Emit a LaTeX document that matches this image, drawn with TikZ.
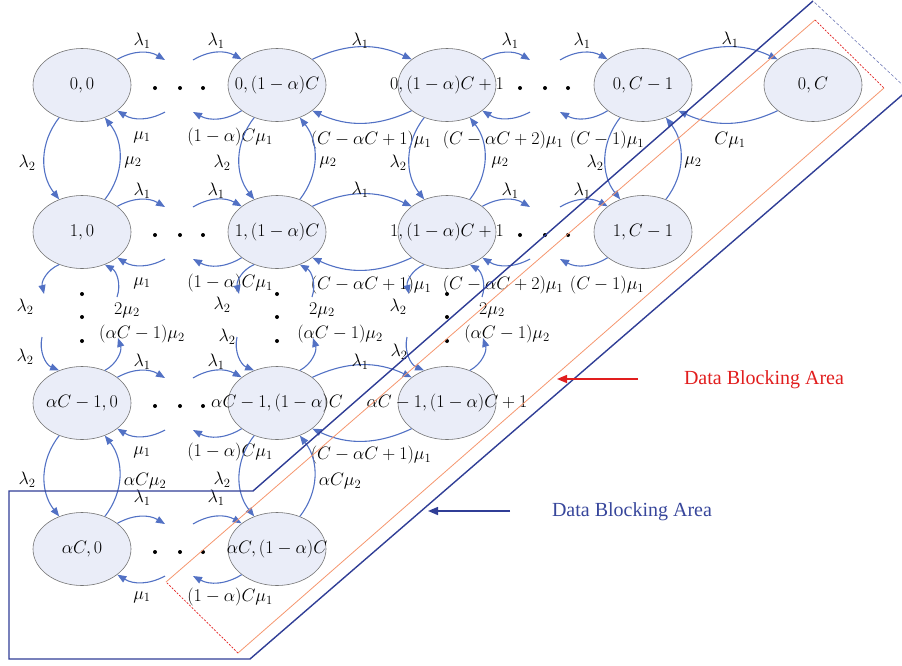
\RequirePackage{fix-cm}
\documentclass[tikz,border=0pt]{standalone}
\usepackage{fontspec}
\newfontfamily\tnr{Liberation Serif}
\usetikzlibrary{shapes.geometric,arrows.meta}
\definecolor{edgeblue}{RGB}{82,113,196}
\definecolor{nodefill}{RGB}{234,237,248}
\definecolor{nodegray}{RGB}{115,115,115}
\definecolor{navyline}{RGB}{48,62,150}
\definecolor{salmonline}{RGB}{245,150,110}
\definecolor{redline}{RGB}{225,30,30}
\definecolor{txtblue}{RGB}{55,70,155}
\begin{document}
\begin{tikzpicture}[x=1pt,y=1pt,
  st/.style={ellipse,draw=nodegray,line width=0.6pt,fill=nodefill,minimum width=98pt,minimum height=73pt,inner sep=0pt,font=\fontsize{18}{21}\selectfont},
  tr/.style={draw=edgeblue,line width=1.1pt,-{Triangle[length=9pt,width=7pt]}},
  lb/.style={font=\fontsize{18}{21}\selectfont,inner sep=0pt},
  note/.style={font={\tnr\fontsize{20}{24}\selectfont},inner sep=0pt}]
\useasboundingbox (0,0) rectangle (902,-665);

% ---------- states ----------
\node[st] (n11) at (82,-85)  {\makebox[0pt]{$0,0$}};
\node[st] (n12) at (277,-85) {\makebox[0pt]{$0,(1-\alpha)C$}};
\node[st] (n13) at (447,-85) {\makebox[0pt]{$0,(1-\alpha)C+1$}};
\node[st] (n14) at (643,-85) {\makebox[0pt]{$0,C-1$}};
\node[st] (n15) at (813,-85) {\makebox[0pt]{$0,C$}};

\node[st] (n21) at (82,-232)  {\makebox[0pt]{$1,0$}};
\node[st] (n22) at (277,-232) {\makebox[0pt]{$1,(1-\alpha)C$}};
\node[st] (n23) at (447,-232) {\makebox[0pt]{$1,(1-\alpha)C+1$}};
\node[st] (n24) at (643,-232) {\makebox[0pt]{$1,C-1$}};

\node[st] (n31) at (82,-403)  {\makebox[0pt]{$\alpha C-1,0$}};
\node[st] (n32) at (277,-403) {\makebox[0pt]{$\alpha C-1,(1-\alpha)C$}};
\node[st] (n33) at (447,-403) {\makebox[0pt]{$\alpha C-1,(1-\alpha)C+1$}};

\node[st] (n41) at (82,-549)  {\makebox[0pt]{$\alpha C,0$}};
\node[st] (n42) at (277,-549) {\makebox[0pt]{$\alpha C,(1-\alpha)C$}};

% ---------- column 1 <-> column 2 through dots, all rows ----------
\foreach \r/\yc/\ya/\yb in {1/-85/-41/-137, 2/-232/-191/-283, 3/-403/-362/-452, 4/-549/-498/-597}{
  \coordinate (pa\r) at (165,\yc+25);
  \coordinate (pb\r) at (193,\yc+25);
  \coordinate (pc\r) at (165,\yc-27);
  \coordinate (pd\r) at (193,\yc-27);
  \draw[tr] (n\r1.36) to[bend left=30] (pa\r);
  \draw[tr] (pb\r) to[bend left=30] (n\r2.144);
  \draw[tr] (pc\r) to[bend left=30] (n\r1.324);
  \draw[tr] (n\r2.216) to[bend left=30] (pd\r);
  \foreach \x in {155,180,203} \fill (\x,\yc-3) circle (2);
  \node[lb] (la\r) at (142,\ya) {$\lambda_1$};
  \node[lb] (lb\r) at (216,\ya) {$\lambda_1$};
  \node[lb] (lc\r) at (142,\yb) {$\mu_1$};
  \node[lb] (ld\r) at (230,\yb) {$(1-\alpha)C\mu_1$};
}

% ---------- column 2 <-> column 3, rows 1-3 ----------
\foreach \r/\ya/\yb in {1/-41/-140, 2/-190/-285, 3/-362/-455}{
  \draw[tr] (n\r2.36) to[bend left=25] (n\r3.144);
  \draw[tr] (n\r3.216) to[bend left=25] (n\r2.324);
  \node[lb] (le\r) at (360,\ya) {$\lambda_1$};
  \node[lb] (lf\r) at (371,\yb) {$(C-\alpha C+1)\mu_1$};
}

% ---------- column 3 <-> column 4 through dots, rows 1-2 ----------
\foreach \r/\yc/\ya/\yb in {1/-85/-41/-140, 2/-232/-191/-285}{
  \coordinate (qa\r) at (530,\yc+25);
  \coordinate (qb\r) at (560,\yc+25);
  \coordinate (qc\r) at (530,\yc-27);
  \coordinate (qd\r) at (560,\yc-27);
  \draw[tr] (n\r3.36) to[bend left=30] (qa\r);
  \draw[tr] (qb\r) to[bend left=30] (n\r4.144);
  \draw[tr] (qc\r) to[bend left=30] (n\r3.324);
  \draw[tr] (n\r4.216) to[bend left=30] (qd\r);
  \foreach \x in {520,545,568} \fill (\x,\yc-3) circle (2);
  \node[lb] (lg\r) at (510,\ya) {$\lambda_1$};
  \node[lb] (lh\r) at (582,\ya) {$\lambda_1$};
  \node[lb] (li\r) at (503,\yb) {$(C-\alpha C+2)\mu_1$};
  \node[lb] (lj\r) at (607,\yb) {$(C-1)\mu_1$};
}

% ---------- column 4 <-> column 5, row 1 ----------
\draw[tr] (n14.36) to[bend left=25] (n15.144);
\draw[tr] (n15.216) to[bend left=25] (n14.324);
\node[lb] (lk1) at (730,-40) {$\lambda_1$};
\node[lb] (lm1) at (730,-140) {$C\mu_1$};

% ---------- row 1 <-> row 2 ----------
\foreach \c/\xl/\xm in {1/27/133, 2/222/328, 3/398/500, 4/595/693}{
  \draw[tr] (n1\c.235) to[bend right=38] (n2\c.125);
  \draw[tr] (n2\c.55) to[bend right=38] (n1\c.305);
  \node[lb] (va\c) at (\xl,-163) {$\lambda_2$};
  \node[lb] (vb\c) at (\xm,-162) {$\mu_2$};
}

% ---------- row 2 <-> row 3 through dots ----------
\foreach \c/\xc/\xu/\yu/\xd/\yd/\xp/\xq in {1/82/25/-307/25/-357/127/142, 2/277/222/-305/227/-337/322/340, 3/447/398/-307/399/-352/492/507}{
  \coordinate (ra\c) at (\xc-38,-294);
  \coordinate (rb\c) at (\xc-40,-337);
  \coordinate (rc\c) at (\xc+36,-338);
  \coordinate (rd\c) at (\xc+35,-297);
  \draw[tr] (n2\c.235) to[bend right=40] (ra\c);
  \draw[tr] (rb\c) to[bend right=40] (n3\c.125);
  \draw[tr] (n3\c.55) to[bend right=40] (rc\c);
  \draw[tr] (rd\c) to[bend right=40] (n2\c.305);
  \foreach \y in {-294,-317,-341} \fill (\xc,\y) circle (2);
  \node[lb] (wa\c) at (\xu,\yu) {$\lambda_2$};
  \node[lb] (wb\c) at (\xd,\yd) {$\lambda_2$};
  \node[lb] (wc\c) at (\xp,-310) {$2\mu_2$};
  \node[lb] (wd\c) at (\xq,-334) {$(\alpha C-1)\mu_2$};
}

% ---------- row 3 <-> row 4 ----------
\foreach \c/\xl/\xm in {1/27/145, 2/222/340}{
  \draw[tr] (n3\c.235) to[bend right=38] (n4\c.125);
  \draw[tr] (n4\c.55) to[bend right=38] (n3\c.305);
  \node[lb] (xa\c) at (\xl,-480) {$\lambda_2$};
  \node[lb] (xb\c) at (\xm,-481) {$\alpha C\mu_2$};
}

% ---------- blocking areas ----------
\begin{scope}
  \clip (0,0) rectangle (902,-665);
  \coordinate (b1) at (813,-1);
  \coordinate (b2) at (253,-491);
  \coordinate (b3) at (9,-491);
  \coordinate (b4) at (9,-659);
  \coordinate (b5) at (250,-659);
  \coordinate (b6) at (908,-90);
  \draw[navyline,line width=1.4pt] (b1) -- (b2) -- (b3) -- (b4) -- (b5) -- (b6);
  \draw[navyline!70,line width=0.6pt,dash pattern=on 3pt off 2pt] (b6) -- (b1);
  \coordinate (o1) at (166,-582);
  \coordinate (o2) at (815,-20);
  \coordinate (o3) at (884,-88);
  \coordinate (o4) at (238,-653);
  \draw[salmonline,line width=0.8pt] (o1) -- (o2);
  \draw[salmonline,line width=0.8pt] (o3) -- (o4);
  \draw[redline,line width=0.7pt,dash pattern=on 2pt off 1.5pt] (o2) -- (o3);
  \draw[redline,line width=0.7pt,dash pattern=on 2pt off 1.5pt] (o4) -- (o1);
\end{scope}

% ---------- annotations ----------
\node[note,text=redline] (redtxt) at (764,-380) {Data Blocking Area};
\coordinate (rs) at (638,-379);
\coordinate (re) at (557,-379);
\draw[redline,line width=1.5pt,-{Triangle[length=10pt,width=8pt]}] (rs) -- (re);

\node[note,text=txtblue] (bluetxt) at (632,-512) {Data Blocking Area};
\coordinate (bs) at (510,-511);
\coordinate (be) at (428,-511);
\draw[navyline,line width=1.5pt,-{Triangle[length=10pt,width=8pt]}] (bs) -- (be);
\end{tikzpicture}
\end{document}
